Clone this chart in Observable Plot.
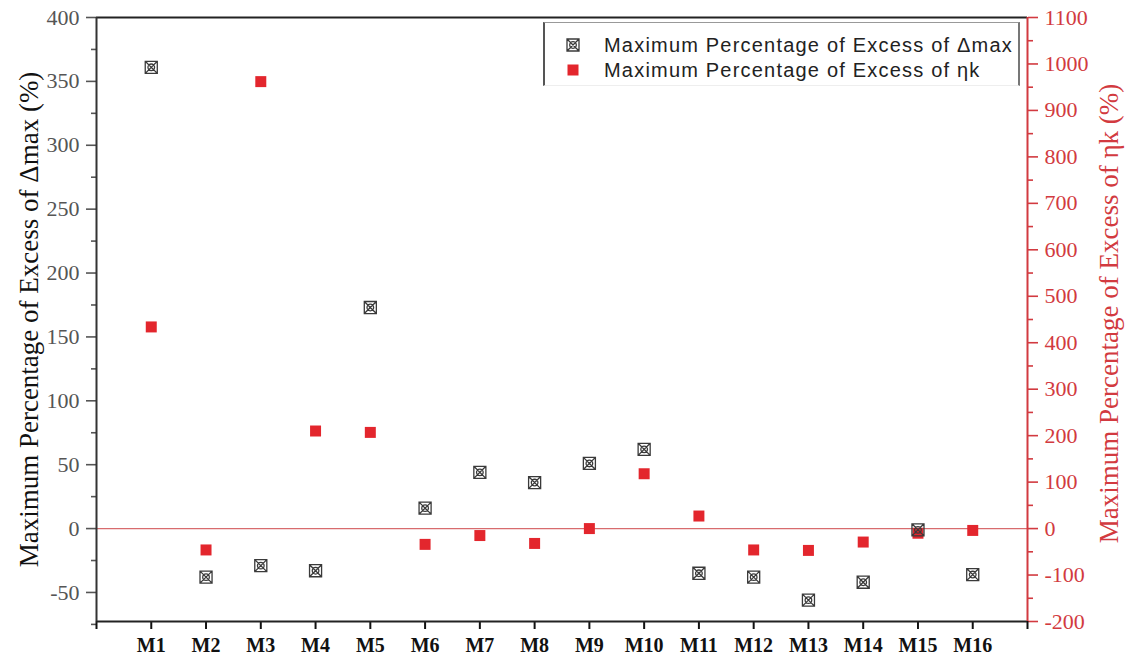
<!DOCTYPE html>
<html>
<head>
<meta charset="utf-8">
<script src="https://cdn.jsdelivr.net/npm/d3@7"></script>
<script src="https://cdn.jsdelivr.net/npm/@observablehq/plot@0.6"></script>
<style>
  body { margin: 0; background: #fff; }
  #wrap { position: relative; width: 1126px; height: 661px; }
  #legend { position: absolute; left: 543px; top: 22px; width: 473px; height: 62px;
    border-top: 1.5px solid #999; border-left: 2px solid #555; border-right: 2px solid #777; border-bottom: 1px solid #eee;
    font-family: "Liberation Sans", Arial, sans-serif; font-size: 20px; letter-spacing: 1.2px; color: #222; background: #fff; }
  .row { position: absolute; left: 0; height: 24px; display: flex; align-items: center; white-space: nowrap; }
  .row svg { margin-left: 21px; margin-right: 24px; }
</style>
</head>
<body>
<div id="wrap"></div>
<script>
// ---- data ----
const categories = ["M1","M2","M3","M4","M5","M6","M7","M8","M9","M10","M11","M12","M13","M14","M15","M16"];
const deltaMax = [361, -38, -29, -33, 173, 16, 44, 36, 51, 62, -35, -38, -56, -42, -1, -36];
const etaK = [434, -46, 962, 210, 207, -34, -15, -32, 0, 118, 27, -46, -47, -29, -10, -4];
const leftTicks = [-50, 0, 50, 100, 150, 200, 250, 300, 350, 400];
const leftMinor = [-75, -25, 25, 75, 125, 175, 225, 275, 325, 375];
const rightTicks = [-200, -100, 0, 100, 200, 300, 400, 500, 600, 700, 800, 900, 1000, 1100];
const rightMinor = [-150, -50, 50, 150, 250, 350, 450, 550, 650, 750, 850, 950, 1050];
const leftTitle = "Maximum Percentage of Excess of Δmax (%)";
const rightTitle = "Maximum Percentage of Excess of ηk (%)";
const legendLabels = ["Maximum Percentage of Excess of Δmax", "Maximum Percentage of Excess of ηk"];

// right axis = left axis * ratio
const ratio = 2.75;
const red = "#e3262d";
const redAxis = "#d23a40";
const yMin = -200 / ratio, yMax = 400;

const rows = categories.map((c, i) => ({ i: i + 1, c, d: deltaMax[i], e: etaK[i] / ratio }));

const crossSquare = {
  draw(ctx, size) {
    const s = Math.sqrt(size) / 2;
    ctx.moveTo(-s, -s); ctx.lineTo(s, -s); ctx.lineTo(s, s); ctx.lineTo(-s, s); ctx.closePath();
    ctx.moveTo(-s, -s); ctx.lineTo(s, s);
    ctx.moveTo(s, -s); ctx.lineTo(-s, s);
    const r = s * 0.55;
    ctx.moveTo(r, 0); ctx.arc(0, 0, r, 0, 2 * Math.PI);
  }
};

const serif = "'Liberation Serif', 'Times New Roman', serif";

const chart = Plot.plot({
  width: 1126, height: 661,
  marginLeft: 96, marginRight: 99, marginTop: 17, marginBottom: 40,
  style: { fontFamily: serif, background: "#fff" },
  x: { type: "linear", domain: [0, 17], axis: null },
  y: { domain: [yMin, yMax], axis: null },
  marks: [
    Plot.ruleY([0], { stroke: "#d86b6e", strokeWidth: 1.2 }),
    // left axis major + minor
    Plot.axisY({ anchor: "left", label: null, ticks: leftTicks, tickSize: 10, tickPadding: 7, tickFormat: d => String(d),
      fontSize: 22, fontFamily: serif, color: "#555", strokeWidth: 1.6 }),
    Plot.axisY({ anchor: "left", label: null, ticks: leftMinor, tickSize: 5, tickFormat: () => "", color: "#555", strokeWidth: 1.6 }),
    // right axis (ηk) major + minor
    Plot.axisY({ anchor: "right", label: null, ticks: rightTicks.map(v => v / ratio), tickSize: 10, tickPadding: 7,
      tickFormat: d => String(Math.round(d * ratio)), fontSize: 22, fontFamily: serif, color: redAxis, strokeWidth: 1.6 }),
    Plot.axisY({ anchor: "right", label: null, ticks: rightMinor.map(v => v / ratio), tickSize: 5, tickFormat: () => "", color: redAxis, strokeWidth: 1.6 }),
    // x axis
    Plot.axisX({ anchor: "bottom", label: null, ticks: d3.range(0, 18), tickSize: 8, tickPadding: 8,
      tickFormat: i => categories[i - 1] ?? "", fontSize: 20, fontWeight: "bold", fontFamily: serif, color: "#111", strokeWidth: 2 }),
    // frame lines
    Plot.ruleY([yMax], { stroke: "#222", strokeWidth: 2 }),
    Plot.ruleY([yMin], { stroke: "#222", strokeWidth: 2 }),
    Plot.ruleX([0], { stroke: "#333", strokeWidth: 2 }),
    Plot.ruleX([17], { stroke: redAxis, strokeWidth: 2 }),
    // data
    Plot.dot(rows, { x: "i", y: "e", symbol: "square", r: 6.2, fill: red, stroke: "none" }),
    Plot.dot(rows, { x: "i", y: "d", symbol: crossSquare, r: 6.8, fill: "none", stroke: "#3a3a3a", strokeWidth: 1.3 }),
    // titles
    Plot.text([leftTitle], { frameAnchor: "left", textAnchor: "middle", lineAnchor: "middle", rotate: -90, dx: -67, fontSize: 27, fill: "#111", fontFamily: serif }),
    Plot.text([rightTitle], { frameAnchor: "right", textAnchor: "middle", lineAnchor: "middle", rotate: -90, dx: 82, dy: -6, fontSize: 27, fill: redAxis, fontFamily: serif })
  ]
});

const wrap = document.getElementById("wrap");
wrap.appendChild(chart);

// legend
const legend = document.createElement("div");
legend.id = "legend";
const sym = [
  `<svg width="14" height="14" viewBox="-7 -7 14 14"><path d="M-6,-6L6,-6L6,6L-6,6Z M-6,-6L6,6 M6,-6L-6,6 M3.3,0A3.3,3.3 0 1 1 -3.3,0A3.3,3.3 0 1 1 3.3,0" fill="none" stroke="#3a3a3a" stroke-width="1.3"/></svg>`,
  `<svg width="14" height="14" viewBox="-7 -7 14 14"><rect x="-5.5" y="-5.5" width="11" height="11" fill="${red}"/></svg>`
];
legendLabels.forEach((t, k) => {
  const r = document.createElement("div");
  r.className = "row";
  r.style.top = (10 + k * 25) + "px";
  r.innerHTML = sym[k] + `<span>${t}</span>`;
  legend.appendChild(r);
});
wrap.appendChild(legend);
</script>
</body>
</html>
